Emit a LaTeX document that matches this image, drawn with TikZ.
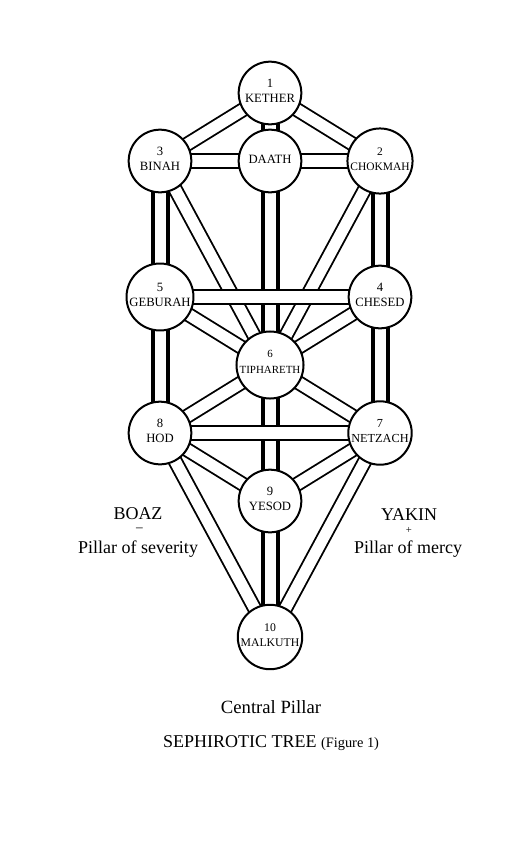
\documentclass[tikz,border=0pt]{standalone}
\usepackage{fontspec}
\setmainfont{Liberation Serif}
\usetikzlibrary{backgrounds}
\begin{document}
\begin{tikzpicture}[x=0.75pt,y=-0.75pt,
  sephira/.style={circle,draw,line width=1.5pt,fill=white,minimum size=47pt,inner sep=0pt,
    align=center,text depth=3pt,font=\fontsize{9.5}{11.5}\selectfont},
  chan/.style={draw,double=white,line width=1.4pt,double distance=8.5pt},
  pil/.style={draw,double=white,line width=3pt,double distance=8.25pt},
  big/.style={font=\fontsize{13.5}{15}\selectfont}]
\useasboundingbox (0,0) rectangle (529,850);

\node[sephira] (k)  at (270,93)  {1\\KETHER};
\node[sephira] (bi) at (160,161) {3\\BINAH};
\node[sephira] (da) at (270,161) {DAATH};
\node[sephira,font=\fontsize{8.6}{11.5}\selectfont] (ch) at (380,161) {2\\CHOKMAH};
\node[sephira] (ge) at (160,297) {5\\GEBURAH};
\node[sephira] (he) at (380,297) {4\\CHESED};
\node[sephira,font=\fontsize{8.2}{11.5}\selectfont,text depth=4.5pt] (ti) at (270,365) {6\\TIPHARETH};
\node[sephira] (ho) at (160,433) {8\\HOD};
\node[sephira,font=\fontsize{9.2}{11.5}\selectfont] (ne) at (380,433) {7\\NETZACH};
\node[sephira] (ye) at (270,501) {9\\YESOD};
\node[sephira,font=\fontsize{8.8}{11.5}\selectfont] (ma) at (270,637) {10\\MALKUTH};

\begin{pgfonlayer}{background}
  \fill[white] (0,0) rectangle (529,850);
  \foreach \a/\b in {k/bi,k/ch,bi/ti,ch/ti,ge/ti,he/ti,ti/ho,ti/ne,ho/ye,ne/ye,ho/ma,ne/ma}
    \draw[chan] (\a.center) -- (\b.center);
  \foreach \a/\b in {bi/ge,ge/ho,ch/he,he/ne,k/da,da/ti,ti/ye,ye/ma}
    \draw[pil] (\a.center) -- (\b.center);
  \foreach \a/\b in {bi/ch,ge/he,ho/ne}
    \draw[chan] (\a.center) -- (\b.center);
\end{pgfonlayer}

\node[big,anchor=base] (boaz) at (138,519) {BOAZ};
\node[font=\fontsize{10}{12}\selectfont] (minus) at (139.5,530) {–};
\node[big,anchor=base] (sev) at (138,553) {Pillar of severity};
\node[big,anchor=base] (yakin) at (409,520) {YAKIN};
\node[font=\fontsize{8}{10}\selectfont] (plus) at (409,530) {+};
\node[big,anchor=base] (mercy) at (408,553) {Pillar of mercy};

\node[font=\fontsize{14}{16}\selectfont,anchor=base] (central) at (271,713) {Central Pillar};
\node[anchor=base] (title) at (271,747)
  {\fontsize{13.5}{15}\selectfont SEPHIROTIC TREE \fontsize{10.8}{12}\selectfont(Figure 1)};
\end{tikzpicture}
\end{document}
